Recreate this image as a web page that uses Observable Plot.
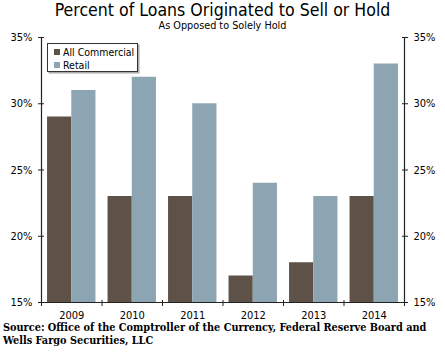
<!DOCTYPE html>
<html><head><meta charset="utf-8">
<script src="https://cdn.jsdelivr.net/npm/d3@7"></script>
<script src="https://cdn.jsdelivr.net/npm/@observablehq/plot@0.6"></script>
<style>
html,body{margin:0;padding:0;background:#fff}
body{width:445px;height:355px;overflow:hidden;position:relative;font-family:"DejaVu Sans Condensed","DejaVu Sans",sans-serif;font-stretch:condensed;color:#000}
.abs{position:absolute;white-space:nowrap}
#title{top:2px;left:0;width:445px;text-align:center;font-size:17px;line-height:17px}
#subtitle{top:20.5px;left:0;width:445px;text-align:center;font-size:9.5px;line-height:9.5px}
#chart{position:absolute;left:0;top:30px}
#chart svg{overflow:visible}
#legend{position:absolute;left:47px;top:43px;width:89px;height:27px;border:1px solid #333;box-shadow:1.5px 1.5px 0 #aaa;background:#fff;font-size:10.5px}
.li{position:absolute;left:6px;height:12px;line-height:12px}
.sw{display:inline-block;width:6px;height:6px;margin-right:3px;vertical-align:1px}
#source{left:3px;top:322px;font-family:"DejaVu Serif Condensed","DejaVu Serif",serif;font-weight:bold;font-size:10px;line-height:12.7px;font-stretch:condensed}
</style></head>
<body>
<div id="title" class="abs"><span>Percent of Loans Originated to Sell or Hold</span></div>
<div id="subtitle" class="abs"><span>As Opposed to Solely Hold</span></div>
<div id="chart"></div>
<div id="legend"></div>
<div id="source" class="abs"><span id="src1">Source: Office of the Comptroller of the Currency, Federal Reserve Board and</span><br><span>Wells Fargo Securities, LLC</span></div>
<script>
const years = ["2009", "2010", "2011", "2012", "2013", "2014"];
const commercial = [29, 23, 23, 17, 18, 23];
const retail = [31, 32, 30, 24, 23, 33];
const seriesNames = ["All Commercial", "Retail"];
const seriesColors = ["#5d5148", "#8da5b2"];
const yTicks = [15, 20, 25, 30, 35];

const rows = years.flatMap((yr, i) => [
  {i, year: yr, series: seriesNames[0], s: 0, value: commercial[i]},
  {i, year: yr, series: seriesNames[1], s: 1, value: retail[i]}
]);

const chart = Plot.plot({
  width: 445,
  height: 292,
  marginTop: 7,
  marginBottom: 20,
  marginLeft: 41,
  marginRight: 41,
  style: {fontFamily: '"DejaVu Sans Condensed","DejaVu Sans",sans-serif', fontSize: "11px", background: "transparent", overflow: "visible"},
  x: {type: "linear", domain: [0, years.length], label: null},
  y: {domain: [15, 35], label: null},
  color: {domain: seriesNames, range: seriesColors},
  marks: [
    Plot.rectY(rows, {
      x1: d => d.i + (d.s === 0 ? 0.1 : 0.5),
      x2: d => d.i + (d.s === 0 ? 0.5 : 0.9),
      y1: 15, y2: "value", fill: "series"
    }),
    Plot.ruleX([0, years.length], {stroke: "#222", strokeWidth: 1.2}),
    Plot.ruleY([15], {stroke: "#222", strokeWidth: 1.2}),
    Plot.axisY({anchor: "left", ticks: yTicks, tickSize: 6, dx: 3, tickPadding: 6, tickFormat: d => d + "%", stroke: "#222"}),
    Plot.axisY({anchor: "right", ticks: yTicks, tickSize: 6, dx: -3, tickPadding: 6, tickFormat: d => d + "%", stroke: "#222"}),
    Plot.axisX({ticks: d3.range(years.length + 1), tickSize: 6, dy: -2, tickFormat: () => "", stroke: "#222"}),
    Plot.axisX({ticks: years.map((_, i) => i + 0.5), tickSize: 0, tickPadding: 9, tickFormat: d => years[Math.floor(d)]})
  ]
});
document.getElementById("chart").appendChild(chart);

// legend
const legend = document.getElementById("legend");
seriesNames.forEach((name, k) => {
  const it = document.createElement("div");
  it.className = "li";
  it.style.top = (2 + k * 12.5) + "px";
  it.innerHTML = `<span class="sw" style="background:${seriesColors[k]}"></span>${name}`;
  legend.appendChild(it);
});

// fit text widths to the reference
function fitWidth(span, target) {
  const el = span.parentElement;
  const fs = parseFloat(getComputedStyle(el).fontSize);
  const w = span.getBoundingClientRect().width;
  el.style.fontSize = (fs * target / w) + "px";
}
fitWidth(document.querySelector("#title span"), 336);
fitWidth(document.querySelector("#subtitle span"), 128);
fitWidth(document.getElementById("src1"), 424);
</script>
</body></html>
